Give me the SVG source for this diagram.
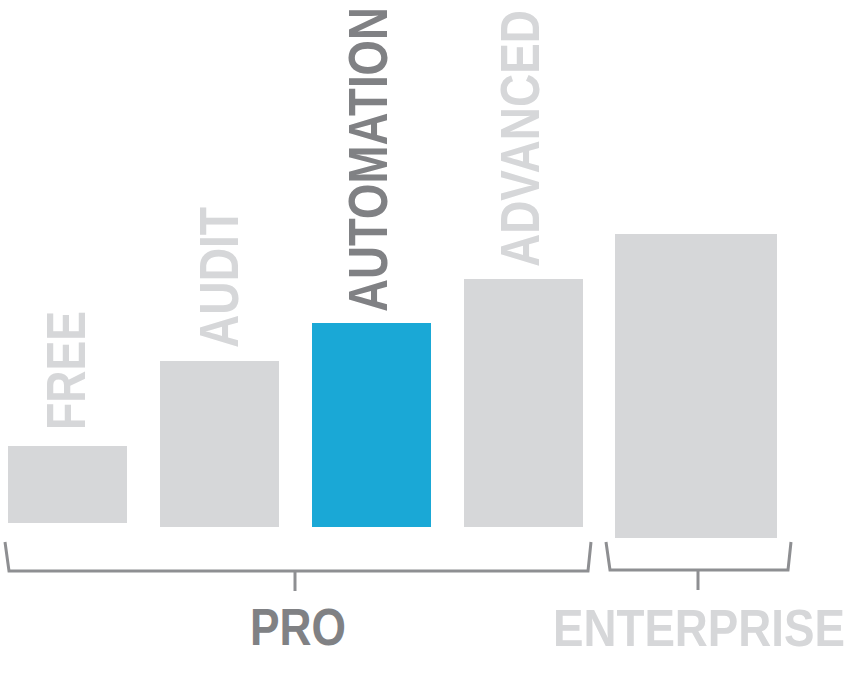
<svg xmlns="http://www.w3.org/2000/svg" width="850" height="676" viewBox="0 0 850 676">
<style>
.bar{fill:#d6d7d9}
.hl{fill:#1aa8d6}
.lbl{font-family:"Liberation Sans",Arial,sans-serif;font-weight:bold;font-size:55px}
.light{fill:#d6d7d9}
.dark{fill:#808184}
.grp{font-family:"Liberation Sans",Arial,sans-serif;font-weight:bold;font-size:52px}
.br{fill:none;stroke:#8e8f92;stroke-width:3}
</style>
<rect width="850" height="676" fill="#ffffff"/>
<g id="free">
<rect class="bar" x="8" y="446" width="119" height="77"/>
<text class="lbl light" transform="translate(85,430) rotate(-90)" textLength="119" lengthAdjust="spacingAndGlyphs">FREE</text>
</g>
<g id="audit">
<rect class="bar" x="160" y="361" width="119" height="166"/>
<text class="lbl light" transform="translate(238,348) rotate(-90)" textLength="141" lengthAdjust="spacingAndGlyphs">AUDIT</text>
</g>
<g id="automation">
<rect class="hl" x="312" y="323" width="119" height="204"/>
<text class="lbl dark" transform="translate(387,312) rotate(-90)" textLength="305" lengthAdjust="spacingAndGlyphs">AUTOMATION</text>
</g>
<g id="advanced">
<rect class="bar" x="464" y="279" width="119" height="248"/>
<text class="lbl light" transform="translate(539,267) rotate(-90)" textLength="257" lengthAdjust="spacingAndGlyphs">ADVANCED</text>
</g>
<g id="enterprise-bar">
<rect class="bar" x="615" y="234" width="162" height="304"/>
</g>
<g id="connectors">
<path class="br" d="M5,542 L9,571 L588,571 L591,542"/>
<path class="br" d="M295,571 L295,591"/>
<path class="br" d="M606,542 L610,570 L788,570 L791,542"/>
<path class="br" d="M698,570 L698,590"/>
</g>
<g id="pro">
<text class="grp dark" x="250" y="645" textLength="96" lengthAdjust="spacingAndGlyphs">PRO</text>
</g>
<g id="enterprise">
<text class="grp light" x="553" y="646" textLength="292" lengthAdjust="spacingAndGlyphs">ENTERPRISE</text>
</g>
</svg>
